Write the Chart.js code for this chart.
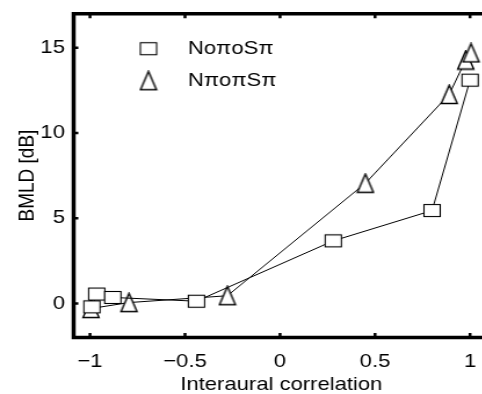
<!DOCTYPE html>
<html>
<head>
<meta charset="utf-8">
<script src="https://cdn.jsdelivr.net/npm/chart.js@4.4.1/dist/chart.umd.min.js"></script>
<style>
    html, body {
        margin: 0;
        padding: 0;
        background: #fff;
        overflow: hidden;
        width: 482px;
        height: 394px;
    }

    /* the original figure is a little stretched sideways */
    #chart {
        display: block;
        transform: scaleX(1.16);
        transform-origin: 0 0;
    }
</style>
</head>
<body>
<canvas id="chart" width="431" height="394"></canvas>
<script>
    // values
    const labels = ["No\u03C0oS\u03C0", "N\u03C0o\u03C0S\u03C0"];
    const squareX = [-0.99, -0.965, -0.88, -0.44, 0.28, 0.80, 1.00];
    const squareY = [-0.2, 0.55, 0.35, 0.13, 3.67, 5.45, 13.1];
    const triX = [-0.995, -0.795, -0.277, 0.449, 0.89, 0.977, 1.005];
    const triY = [-0.3, 0.05, 0.45, 7.05, 12.26, 14.28, 14.7];
    const xTicks = [-1, -0.5, 0, 0.5, 1];
    const yTicks = [0, 5, 10, 15];

    const FONT = "'Liberation Sans', Arial, sans-serif";
    const SIZE = 19;

    function makeSquare() {
        const c = document.createElement("canvas");
        c.width = 17; c.height = 15;
        const g = c.getContext("2d");
        g.fillStyle = "#fff";
        g.fillRect(1, 1, 15, 13);
        g.strokeStyle = "#000";
        g.lineWidth = 1.1;
        g.strokeRect(1.5, 1.5, 14, 12);
        return c;
    }

    function makeTriangle() {
        const c = document.createElement("canvas");
        c.width = 17; c.height = 21;
        const g = c.getContext("2d");
        g.beginPath();
        g.moveTo(8.5, 1.2);
        g.lineTo(15.4, 19.5);
        g.lineTo(1.6, 19.5);
        g.closePath();
        g.fillStyle = "#fff";
        g.fill();
        g.strokeStyle = "#000";
        g.lineWidth = 1.4;
        g.stroke();
        return c;
    }

    const squareImg = makeSquare();
    const triImg = makeTriangle();

    const pts = (xs, ys) => xs.map((x, i) => ({ x: x, y: ys[i] }));

    // frame on left, bottom, top with small inward ticks, plus legend
    const framePlugin = {
        id: "frame",
        afterDraw(chart) {
            const ctx = chart.ctx;
            const a = chart.chartArea;
            const xs = chart.scales.x, ys = chart.scales.y;
            ctx.save();
            ctx.strokeStyle = "#000";
            ctx.lineWidth = 3.5;
            ctx.beginPath();
            ctx.moveTo(chart.width + 5, a.top);
            ctx.lineTo(a.left, a.top);
            ctx.lineTo(a.left, a.bottom);
            ctx.lineTo(chart.width + 5, a.bottom);
            ctx.stroke();

            ctx.lineWidth = 2.5;
            ctx.beginPath();
            xTicks.forEach(v => {
                const px = xs.getPixelForValue(v);
                ctx.moveTo(px, a.bottom);
                ctx.lineTo(px, a.bottom - 4.5);
                ctx.moveTo(px, a.top);
                ctx.lineTo(px, a.top + 4.5);
            });
            yTicks.forEach(v => {
                const py = ys.getPixelForValue(v);
                ctx.moveTo(a.left, py);
                ctx.lineTo(a.left + 4, py);
            });
            ctx.stroke();

            // legend
            const imgs = [squareImg, triImg];
            ctx.fillStyle = "#000";
            ctx.font = SIZE + "px " + FONT;
            ctx.textBaseline = "middle";
            ctx.textAlign = "left";
            labels.forEach((t, i) => {
                const cy = a.top + 35 + i * 32;
                const img = imgs[i];
                ctx.drawImage(img, a.left + 64.5 - img.width / 2, cy - img.height / 2);
                ctx.fillText(t, a.left + 98.5, cy);
            });
            ctx.restore();
        }
    };

    new Chart("chart", {
        type: "line",
        data: {
            datasets: [
                {
                    label: labels[0],
                    data: pts(squareX, squareY),
                    borderColor: "#000",
                    borderWidth: 1,
                    pointStyle: squareImg,
                    tension: 0
                },
                {
                    label: labels[1],
                    data: pts(triX, triY),
                    borderColor: "#000",
                    borderWidth: 1,
                    pointStyle: triImg,
                    tension: 0
                }
            ]
        },
        options: {
            responsive: false,
            animation: false,
            devicePixelRatio: 1,
            layout: { padding: { top: 13.7, right: 9.4, left: 0, bottom: -2 } },
            plugins: {
                legend: { display: false },
                tooltip: { enabled: false }
            },
            clip: false,
            scales: {
                x: {
                    type: "linear",
                    min: -1.086,
                    max: 1.1,
                    afterBuildTicks: s => { s.ticks = xTicks.map(v => ({ value: v })); },
                    afterFit: s => { s.height = 58.5; },
                    grid: { display: false, drawTicks: false },
                    border: { display: false },
                    ticks: {
                        color: "#000",
                        font: { family: FONT, size: SIZE },
                        padding: 13,
                        maxRotation: 0,
                        callback: v => String(v).replace("-", "\u2212")
                    },
                    title: {
                        display: true,
                        text: "Interaural correlation",
                        color: "#000",
                        font: { family: FONT, size: SIZE },
                        padding: { top: 0, bottom: 0 }
                    }
                },
                y: {
                    min: -2,
                    max: 17,
                    afterBuildTicks: s => { s.ticks = yTicks.map(v => ({ value: v })); },
                    afterFit: s => {
                        s.width = 63.5;
                        s.paddingTop = 0;
                        s.paddingBottom = 0;
                    },
                    grid: { display: false, drawTicks: false },
                    border: { display: false },
                    ticks: {
                        color: "#000",
                        font: { family: FONT, size: SIZE },
                        padding: 7.5
                    },
                    title: {
                        display: true,
                        text: "BMLD [dB]",
                        color: "#000",
                        font: { family: FONT, size: SIZE },
                        padding: { top: 12.5, bottom: 0 }
                    }
                }
            }
        },
        plugins: [framePlugin]
    });
</script>
</body>
</html>
